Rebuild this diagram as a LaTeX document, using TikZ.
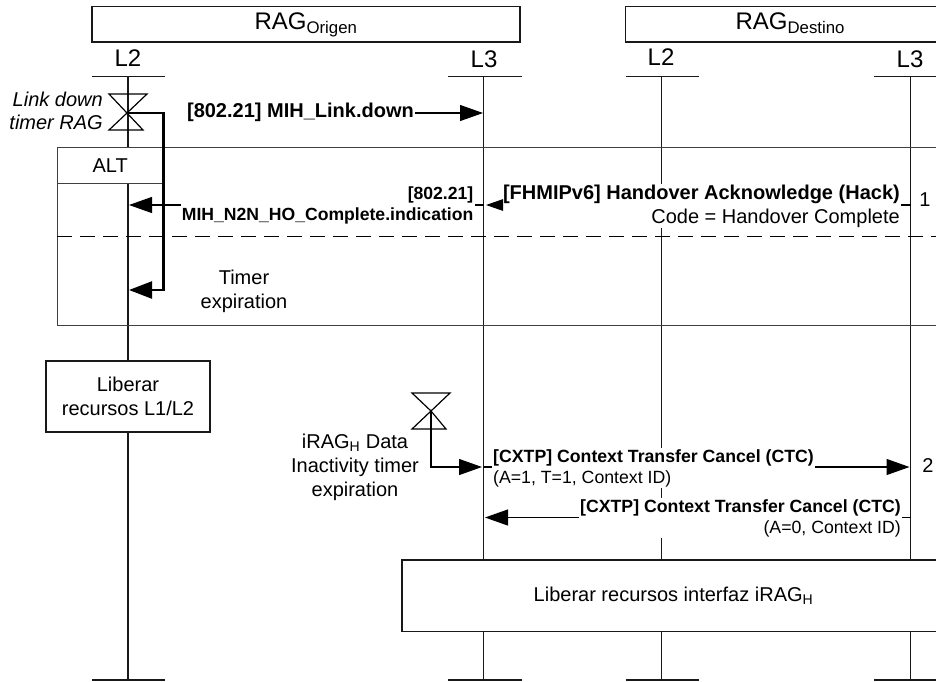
\documentclass[tikz,border=0pt]{standalone}
\usepackage{fontspec}
\setmainfont{Liberation Sans}
\usetikzlibrary{arrows.meta,positioning}
\newcommand{\subtxt}[1]{\textsubscript{#1}}
\tikzset{
  x=1pt,y=-1pt,
  life/.style={line width=1.2pt,draw=black!90},
  tick/.style={line width=1.2pt,draw=black!90},
  box/.style={draw=black!90,line width=1.2pt,fill=white,inner sep=0pt,align=center},
  head/.style={font=\fontsize{24}{28}\selectfont,inner sep=0pt},
  msg/.style={font=\fontsize{20}{24}\selectfont,fill=white,inner sep=1pt},
  note/.style={font=\fontsize{20}{24}\selectfont,inner sep=0pt,align=center},
  big/.style={-{Triangle[length=23pt,width=16pt]},line width=1.2pt},
  small/.style={-{Triangle[length=17pt,width=11.5pt]},line width=1.2pt},
  thick path/.style={-{Triangle[length=23pt,width=17pt]},line width=2.4pt},
  frame/.style={draw=black!75,line width=1pt},
  plain/.style={line width=1.2pt},
  hour/.style={draw=black,line width=1.2pt}
}
\begin{document}
\begin{tikzpicture}
\useasboundingbox (0,0) rectangle (936,681);
% lifeline ends
\foreach \n/\x/\l/\r in {a/128/92/165,b/483.5/448/521.5,c/661.5/625.5/698.5,d/910.5/874/947}{
  \coordinate (\n t) at (\x,76.5);
  \coordinate (\n b) at (\x,680);
  \draw[tick] (\l,76.5) -- (\r,76.5);
  \draw[tick] (\l,680) -- (\r,680);
  \draw[life] (\n t) -- (\n b);
}
% headers
\node[box,minimum width=428pt,minimum height=35.5pt,font=\fontsize{24}{28}\selectfont,text depth=8pt,text height=19pt] (orig) at (306,24.25) {RAG\subtxt{Origen}};
\node[box,minimum width=329.5pt,minimum height=35.5pt,font=\fontsize{24}{28}\selectfont,text depth=8pt,text height=19pt] (dest) at (790.25,24.25) {RAG\subtxt{Destino}};
\node[head] (la) at (128,58) {L2};
\node[head] (lb) at (484,59) {L3};
\node[head] (lc) at (661,57) {L2};
\node[head] (ld) at (910,59) {L3};
% ALT frame
\draw[frame] (945,147.5) -- (57,147.5) -- (57,325) -- (945,325);
\node[box,draw=black!75,line width=1pt,minimum width=106.5pt,minimum height=35.5pt,font=\fontsize{20}{24}\selectfont] (alt) at (110.25,165.25) {ALT};
\draw[dash pattern=on 15pt off 8pt,line width=1.2pt] (57,236.5) -- (945,236.5);
% timer 1
\coordinate (x1) at (127,113);
\draw[hour] (109,94) -- (147,94) -- (x1) -- (109,130) -- (143,130) -- (x1) -- cycle;
\node[note,align=right,anchor=east,font=\itshape\fontsize{20}{23}\selectfont] (t1) at (103,110.5) {Link down\\timer RAG};
\coordinate (x1r) at (163.5,113);
\coordinate (a3) at (129,290);
\draw[thick path] (x1) -- (x1r) -- (163.5,290) -- (a3);
% msg 1
\node[msg,anchor=east,font=\bfseries\fontsize{20}{24}\selectfont] (m1) at (415,112) {[802.21] MIH\_Link.down};
\coordinate (b1) at (483,113);
\draw[big] (m1.east |- b1) -- (b1);
% msg 2 group
\node[msg,anchor=east,align=right] (fh) at (901,206) {\textbf{[FHMIPv6] Handover Acknowledge (Hack)}\\Code = Handover Complete};
\coordinate (d2) at (910.5,205);
\coordinate (b2) at (486,205);
\draw[plain] (d2) -- (fh.east |- d2);
\draw[small] (fh.west |- b2) -- (b2);
\node[msg,anchor=east,align=right,font=\bfseries\fontsize{17.6}{21}\selectfont] (mn) at (474.5,205.5) {[802.21]\\MIH\_N2N\_HO\_Complete.indication};
\coordinate (bb2) at (483.5,205);
\coordinate (a2) at (129,205);
\draw[plain] (bb2) -- (mn.east |- bb2);
\draw[big] (mn.west |- a2) -- (a2);
\node[note] (te) at (244,291) {Timer\\expiration};
\node[note] (n1) at (925,200) {1};
% Liberar
\node[box,minimum width=164pt,minimum height=71pt,font=\fontsize{20}{24}\selectfont] (lib) at (128,396.5) {Liberar\\recursos L1/L2};
% timer 2
\coordinate (x2) at (431,411);
\draw[hour] (412,393) -- (450,393) -- (x2) -- (412,429) -- (446,429) -- (x2) -- cycle;
\node[note] (in) at (355,467) {iRAG\subtxt{H} Data\\Inactivity timer\\expiration};
\coordinate (b3) at (482,467);
\draw[big] (x2) |- (b3);
% CTC 1
\node[msg,anchor=west,align=left,font=\fontsize{17.7}{21}\selectfont] (c1) at (492,468) {\textbf{[CXTP] Context Transfer Cancel (CTC)}\\(A=1, T=1, Context ID)};
\coordinate (b4) at (483.5,467);
\coordinate (d4) at (909.5,467);
\draw[plain] (b4) -- (c1.west |- b4);
\draw[big] (c1.east |- d4) -- (d4);
\node[note] (n2) at (928,466) {2};
% CTC 2
\node[msg,anchor=east,align=right,font=\fontsize{17.7}{21}\selectfont] (c2) at (902,518) {\textbf{[CXTP] Context Transfer Cancel (CTC)}\\(A=0, Context ID)};
\coordinate (d5) at (910.5,517.5);
\coordinate (b5) at (485,517.5);
\draw[plain] (d5) -- (c2.east |- d5);
\draw[big] (c2.west |- b5) -- (b5);
% big box
\node[box,minimum width=543pt,minimum height=71.5pt,font=\fontsize{20}{24}\selectfont] (rel) at (673.5,595.75) {Liberar recursos interfaz iRAG\subtxt{H}};
\end{tikzpicture}
\end{document}
